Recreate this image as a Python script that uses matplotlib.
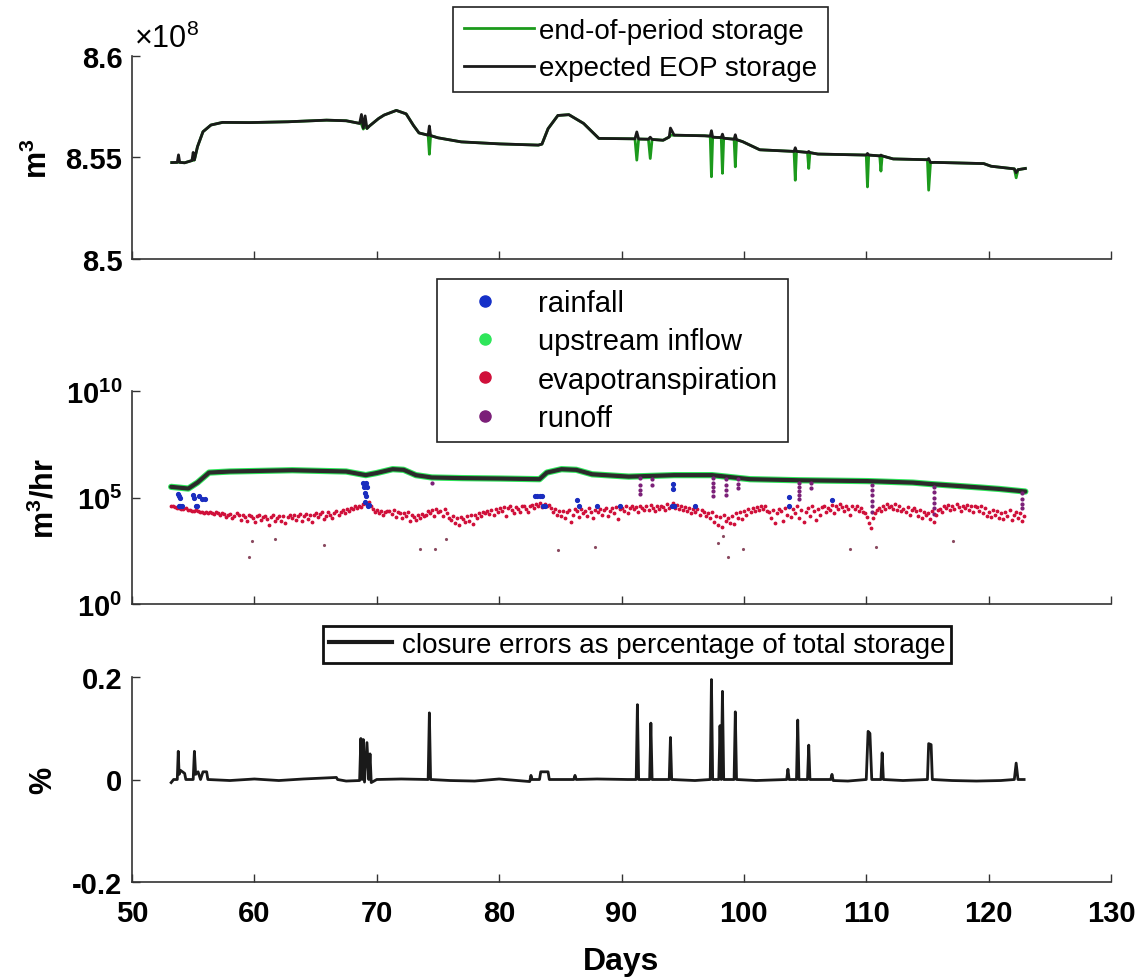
import numpy as np
import matplotlib
matplotlib.use("Agg")
import matplotlib.pyplot as plt
from matplotlib.lines import Line2D

# ---------------- data ----------------
# top panel: storage (units of 1e8 m^3)
storage_days = [53.25, 53.7, 53.8, 53.9, 54.3, 54.9, 55.0, 55.1, 55.35, 55.8, 56.45, 57.4,
                59.6, 62.75, 65.9, 67.5, 68.6, 68.75, 68.9, 69.05, 69.2, 69.4, 70.15, 70.6,
                71.6, 72.4, 73.0, 73.45, 74.2, 74.3, 74.4, 75.0, 76.9, 80.05, 83.2, 83.5,
                84.0, 84.8, 85.7, 86.9, 88.15, 91.1, 91.25, 91.4, 92.2, 92.35, 92.5, 93.4,
                93.9, 94.0, 94.3, 96.8, 97.25, 97.35, 97.45, 98.15, 98.25, 98.35, 99.2, 99.3,
                99.4, 99.9, 101.3, 104.1, 104.2, 104.3, 105.2, 105.3, 105.4, 106.05, 110.0,
                110.1, 110.2, 111.1, 111.2, 111.3, 112.2, 115.0, 115.1, 115.25, 115.6, 119.6,
                120.2, 122.1, 122.25, 122.4, 123.0]
eop_storage = [8.5475, 8.5476, 8.5478, 8.5476, 8.5474, 8.5485, 8.5486, 8.5488, 8.5553, 8.5627,
               8.5660, 8.5673, 8.5672, 8.5676, 8.5684, 8.5681, 8.5668, 8.5665, 8.5640, 8.5655,
               8.5643, 8.5655, 8.5692, 8.5709, 8.5732, 8.5715, 8.5658, 8.5621, 8.5610, 8.5516,
               8.5608, 8.5597, 8.5577, 8.5567, 8.5561, 8.5566, 8.5642, 8.5707, 8.5711, 8.5668,
               8.5594, 8.5592, 8.5487, 8.5591, 8.5590, 8.5495, 8.5589, 8.5585, 8.5601, 8.5610,
               8.5610, 8.5607, 8.5605, 8.5405, 8.5600, 8.5598, 8.5422, 8.5595, 8.5590, 8.5454,
               8.5588, 8.5578, 8.5538, 8.5530, 8.5388, 8.5530, 8.5525, 8.5446, 8.5524, 8.5517,
               8.5512, 8.5355, 8.5512, 8.5508, 8.5433, 8.5508, 8.5493, 8.5489, 8.5339, 8.5475,
               8.5476, 8.5470, 8.5457, 8.5444, 8.5400, 8.5440, 8.5446]
expected_storage = [8.5475, 8.5476, 8.5513, 8.5476, 8.5474, 8.5485, 8.5525, 8.5488, 8.5553, 8.5627,
                    8.5660, 8.5673, 8.5672, 8.5676, 8.5684, 8.5681, 8.5668, 8.5712, 8.5645, 8.5705,
                    8.5643, 8.5655, 8.5692, 8.5709, 8.5732, 8.5715, 8.5658, 8.5621, 8.5610, 8.5655,
                    8.5608, 8.5597, 8.5577, 8.5567, 8.5561, 8.5566, 8.5642, 8.5707, 8.5711, 8.5668,
                    8.5594, 8.5592, 8.5626, 8.5591, 8.5590, 8.5600, 8.5589, 8.5585, 8.5601, 8.5645,
                    8.5610, 8.5607, 8.5605, 8.5632, 8.5600, 8.5598, 8.5615, 8.5595, 8.5590, 8.5612,
                    8.5588, 8.5578, 8.5538, 8.5530, 8.5548, 8.5530, 8.5525, 8.5530, 8.5524, 8.5517,
                    8.5512, 8.5520, 8.5512, 8.5508, 8.5512, 8.5508, 8.5493, 8.5489, 8.5495, 8.5475,
                    8.5476, 8.5470, 8.5457, 8.5444, 8.5425, 8.5440, 8.5446]

# middle panel: fluxes, log10(m^3/hr)
upstream_days = [53.2, 54.6, 55.35, 56.3, 58.0, 63.1, 67.5, 69.1, 70.0, 71.3, 72.2, 73.2, 74.5,
                 77.0, 80.1, 83.3, 83.9, 85.1, 86.3, 87.6, 90.6, 94.3, 97.4, 100.5, 104.5,
                 110.1, 113.8, 115.3, 119.3, 120.9, 123.0]
upstream_log = [5.50, 5.42, 5.70, 6.17, 6.22, 6.28, 6.22, 6.05, 6.15, 6.33, 6.30, 6.05, 5.94,
                5.91, 5.89, 5.86, 6.17, 6.33, 6.30, 6.09, 5.98, 6.05, 6.05, 5.86, 5.81,
                5.77, 5.70, 5.63, 5.47, 5.40, 5.28]

rain_days = [53.75, 53.8, 53.85, 53.95, 54.1, 53.9, 55.0, 55.1, 55.2, 55.35, 55.5, 55.7, 56.0,
             68.9, 69.1, 68.95, 69.2, 69.0, 69.15, 69.05, 69.3, 69.4,
             82.9, 83.1, 83.3, 83.5, 83.6, 83.75, 86.4, 86.5, 88.0, 89.9,
             94.2, 94.2, 94.1, 94.25, 94.3, 96.0, 103.7, 103.7, 107.2]
rain_log = [5.15, 5.05, 4.62, 4.62, 4.62, 5.0, 5.12, 5.0, 4.62, 4.62, 5.05, 4.95, 4.95,
            5.66, 5.66, 5.47, 5.5, 5.2, 5.05, 4.8, 4.62, 4.65,
            5.05, 5.05, 5.05, 5.05, 4.62, 4.62, 4.89, 4.61, 4.61, 4.61,
            5.63, 5.42, 4.62, 4.62, 4.62, 4.61, 5.03, 4.61, 4.89]

# evapotranspiration sampled at these hours of each day
et_first_day = 53
et_hours = [1, 5, 9, 13, 17, 21]
et_log = [
    [np.nan, 4.62, 4.58, 4.55, 4.52, 4.50],
    [4.48, 4.46, 4.50, 4.42, 4.40, 4.38],
    [4.36, 4.40, 4.35, 4.30, 4.33, 4.28],
    [4.30, 4.25, 4.32, 4.28, 4.22, 4.30],
    [4.26, 4.20, 4.28, 4.24, 4.10, 4.18],
    [4.22, 4.05, 4.15, 4.25, 4.20, 3.95],
    [4.18, 4.10, 3.90, 4.20, 4.15, 4.02],
    [3.85, 4.12, 4.18, 3.95, 4.08, 4.15],
    [3.98, 3.70, 4.10, 4.16, 3.88, 4.05],
    [4.12, 3.92, 4.15, 3.80, 4.10, 4.20],
    [4.05, 4.18, 3.95, 4.12, 4.22, 3.90],
    [4.15, 4.24, 4.00, 4.18, 3.85, 4.20],
    [4.26, 4.10, 4.22, 4.30, 3.98, 4.15],
    [4.32, 4.20, 4.05, 4.28, 4.35, 4.18],
    [4.30, 4.40, 4.25, 4.45, 4.38, 4.50],
    [4.45, 4.58, 4.52, 4.62, 4.55, 4.68],
    [4.75, 4.65, 4.80, 4.60, 4.48, 4.30],
    [4.40, 4.25, 4.35, 4.18, 4.30, 4.38],
    [4.35, 4.22, 4.40, 4.10, 4.32, 4.28],
    [4.05, 4.25, 4.15, 4.30, 3.90, 4.20],
    [4.10, 3.95, 4.18, 4.05, 4.22, 4.12],
    [4.20, 4.35, 4.28, 4.40, 4.15, 4.45],
    [4.30, 4.38, 4.12, 4.48, 4.25, 4.05],
    [3.95, 4.15, 3.80, 4.05, 3.70, 4.10],
    [4.00, 3.85, 4.12, 3.92, 4.18, 3.75],
    [4.20, 4.05, 4.28, 4.12, 4.32, 4.25],
    [4.35, 4.22, 4.40, 4.18, 4.45, 4.30],
    [4.50, 4.38, 4.55, 4.15, 4.52, 4.60],
    [4.40, 4.25, 4.55, 4.48, 4.30, 4.58],
    [4.62, 4.45, 4.30, 4.58, 4.66, 4.50],
    [4.68, 4.60, 4.72, 4.55, 4.70, 4.62],
    [4.65, 4.50, 4.30, 4.45, 4.20, 4.35],
    [4.15, 4.38, 4.05, 4.30, 4.42, 3.85],
    [4.20, 4.45, 4.35, 4.10, 4.48, 4.25],
    [4.38, 4.15, 4.50, 4.30, 4.05, 4.42],
    [4.30, 4.48, 4.20, 4.40, 4.52, 4.15],
    [4.35, 4.50, 4.28, 4.55, 4.00, 4.45],
    [4.52, 4.38, 4.58, 4.25, 4.50, 4.60],
    [4.45, 4.55, 4.32, 4.62, 4.50, 4.40],
    [4.58, 4.42, 4.65, 4.50, 4.35, 4.60],
    [4.48, 4.62, 4.55, 4.40, 4.68, 4.52],
    [4.60, 4.72, 4.50, 4.65, 4.45, 4.58],
    [4.40, 4.55, 4.35, 4.50, 4.25, 4.45],
    [4.32, 4.48, 4.20, 4.40, 4.30, 4.15],
    [4.25, 4.05, 4.30, 3.85, 4.15, 3.70],
    [4.10, 3.60, 4.20, 3.90, 4.05, 3.80],
    [4.15, 3.75, 4.25, 4.05, 4.30, 4.00],
    [4.35, 4.20, 4.45, 4.30, 4.50, 4.38],
    [4.55, 4.40, 4.62, 4.48, 4.60, 4.35],
    [4.30, 4.05, 4.40, 3.80, 4.25, 4.45],
    [4.38, 3.90, 4.50, 4.20, 4.55, 4.10],
    [4.45, 4.25, 4.60, 4.05, 4.40, 3.85],
    [4.30, 4.50, 4.15, 4.58, 4.35, 3.95],
    [4.48, 4.20, 4.55, 4.62, 4.30, 4.50],
    [4.40, 4.65, 4.25, 4.58, 4.45, 4.70],
    [4.55, 4.35, 4.62, 4.48, 4.20, 4.58],
    [4.45, 4.60, 4.38, 4.52, 4.30, 4.25],
    [4.10, 3.80, 3.55, 4.05, 4.25, 4.40],
    [4.50, 4.38, 4.60, 4.45, 4.70, 4.55],
    [4.62, 4.48, 4.70, 4.40, 4.58, 4.35],
    [4.45, 4.30, 4.55, 4.20, 4.40, 4.50],
    [4.35, 4.15, 4.42, 4.05, 4.30, 4.20],
    [4.25, 4.00, 4.35, 3.85, 4.20, 4.40],
    [4.48, 4.30, 4.60, 4.50, 4.65, 4.40],
    [4.62, 4.45, 4.68, 4.55, 4.35, 4.60],
    [4.50, 4.65, 4.40, 4.58, 4.30, 4.62],
    [4.55, 4.38, 4.60, 4.25, 4.50, 4.15],
    [4.30, 4.10, 4.40, 4.20, 4.35, 4.05],
    [4.25, 4.00, 4.32, 4.15, 4.40, 3.95],
    [4.20, 4.30, 4.05, 4.25, 3.90, 4.15],
]
et_low_days = [59.6, 59.8, 61.65, 65.7, 73.5, 74.8, 75.65, 84.8, 87.8, 97.9, 98.3, 98.7,
               99.9, 108.7, 110.8, 117.1]
et_low_log = [2.22, 2.97, 3.05, 2.77, 2.60, 2.58, 3.05, 2.55, 2.66, 2.85, 3.20, 2.19,
              2.60, 2.60, 2.66, 2.97]

runoff_dip_days = [74.5, 91.5, 91.5, 91.5, 91.5, 92.5, 92.5, 97.5, 97.5, 97.5, 97.5, 97.5,
                   98.5, 98.5, 98.5, 98.5, 99.5, 99.5, 99.5, 104.5, 104.5, 104.5, 104.5, 104.5,
                   105.5, 105.5, 110.5, 110.5, 110.5, 110.5, 110.5, 110.5,
                   115.5, 115.5, 115.5, 115.5, 115.5, 115.5, 122.7, 122.7, 122.7, 122.7]
runoff_dip_log = [5.70, 5.90, 5.60, 5.35, 5.16, 5.85, 5.60, 5.90, 5.70, 5.50, 5.30, 5.08,
                  5.85, 5.60, 5.35, 5.10, 5.85, 5.65, 5.45, 5.70, 5.50, 5.30, 5.10, 4.92,
                  5.70, 5.45, 5.60, 5.35, 5.10, 4.85, 4.60, 4.30,
                  5.50, 5.25, 5.00, 4.75, 4.50, 4.22, 5.20, 4.95, 4.70, 4.53]

# bottom panel: closure error (%)
closure_days = [53.2, 53.4, 53.7, 53.78, 53.85, 53.95, 54.3, 54.4, 55.0, 55.1, 55.2, 55.4, 55.6,
                55.8, 56.1, 56.2, 58.0, 60.0, 62.0, 64.0, 66.7, 66.8, 67.5, 68.6, 68.7, 68.8,
                68.9, 69.0, 69.2, 69.35, 69.45, 69.55, 70.0, 72.0, 74.2, 74.3, 74.4, 76.0,
                78.0, 80.0, 82.5, 82.6, 82.7, 83.3, 83.4, 84.0, 84.1, 86.1, 86.2, 86.3, 88.0,
                90.5, 91.2, 91.3, 91.4, 92.3, 92.4, 92.5, 93.9, 94.0, 94.1, 96.0, 97.25, 97.35,
                97.45, 97.95, 98.05, 98.15, 98.25, 98.35, 99.2, 99.3, 99.4, 101.0, 103.5, 103.6,
                103.7, 104.3, 104.4, 104.5, 105.2, 105.3, 105.4, 107.1, 107.2, 107.3, 108.5,
                110.0, 110.15, 110.3, 110.45, 111.2, 111.3, 111.4, 113.0, 115.0, 115.1, 115.3,
                115.4, 117.0, 119.0, 121.0, 122.1, 122.25, 122.4, 122.9]
closure_pct = [-0.006, 0.0, 0.0, 0.055, 0.010, 0.018, 0.012, 0.0, 0.0, 0.055, 0.010, 0.015, 0.0,
               0.015, 0.015, 0.0, -0.002, 0.001, -0.002, 0.001, 0.004, 0.0, -0.003, -0.002, 0.080,
               0.0, 0.078, -0.005, 0.072, 0.0, 0.050, -0.006, 0.0, 0.001, 0.0, 0.130, 0.0, -0.002,
               -0.003, 0.001, -0.004, 0.008, 0.0, 0.0, 0.015, 0.015, 0.0, 0.0, 0.008, 0.0, 0.001,
               0.0, 0.0, 0.146, 0.0, 0.0, 0.110, 0.0, 0.0, 0.082, 0.0, -0.002, 0.0, 0.195,
               0.0, 0.0, 0.105, 0.0, 0.172, 0.0, 0.0, 0.132, 0.0, -0.002, 0.0, 0.020,
               0.0, 0.0, 0.116, 0.0, 0.0, 0.067, 0.0, 0.0, 0.010, -0.002, -0.003,
               0.0, 0.094, 0.090, 0.0, 0.0, 0.052, 0.0, -0.002, 0.0, 0.070, 0.068,
               0.0, -0.002, -0.003, -0.002, 0.0, 0.032, 0.0, 0.0]

# ---------------- styling ----------------
plt.rcParams["font.family"] = ["Liberation Sans", "DejaVu Sans"]
plt.rcParams["mathtext.fontset"] = "custom"
plt.rcParams["mathtext.rm"] = "Liberation Sans"
plt.rcParams["mathtext.bf"] = "Liberation Sans:bold"
plt.rcParams["mathtext.it"] = "Liberation Sans:italic"

W, H = 1137, 979


def px_rect(left, top, right, bottom):
    return [left / W, 1 - bottom / H, (right - left) / W, (bottom - top) / H]


def style(ax):
    ax.spines["top"].set_visible(False)
    ax.spines["right"].set_visible(False)
    for s in ("left", "bottom"):
        ax.spines[s].set_color("#333333")
        ax.spines[s].set_linewidth(1.2)
    ax.tick_params(direction="in", length=6, width=1.0, color="#333333",
                   labelsize=21, pad=7)
    ax.tick_params(which="minor", length=0)
    ax.set_xlim(50, 130)
    ax.set_xticks(range(50, 131, 10))
    for lab in ax.get_xticklabels() + ax.get_yticklabels():
        lab.set_fontweight("bold")


fig = plt.figure(figsize=(W / 100, H / 100), dpi=100)
ax1 = fig.add_axes(px_rect(132, 57, 1111, 260))
ax2 = fig.add_axes(px_rect(132, 392, 1111, 605))
ax3 = fig.add_axes(px_rect(132, 678, 1111, 883))

# ---- top panel
ax1.plot(storage_days, eop_storage, color="#1c9a1c", lw=2.0, label="end-of-period storage")
ax1.plot(storage_days, expected_storage, color="#1a1a1a", lw=2.0, label="expected EOP storage")
ax1.set_ylim(8.5, 8.6)
ax1.set_yticks([8.5, 8.55, 8.6])
ax1.set_yticklabels(["8.5", "8.55", "8.6"])
style(ax1)
ax1.set_xticklabels([])
ax1.set_ylabel("m$^\\mathbf{3}$", fontsize=22, fontweight="bold", labelpad=8)
fig.text(134 / W, 1 - 48 / H, r"$\times10^{8}$", fontsize=22, va="baseline", ha="left")
leg1 = ax1.legend(loc="upper left", bbox_to_anchor=(453 / W, 1 - 8 / H),
                  bbox_transform=fig.transFigure, fancybox=False, edgecolor="#222222",
                  framealpha=1, borderpad=0.4, borderaxespad=0, handlelength=2.5,
                  handletextpad=0.2, labelspacing=0.4, prop={"size": 20})
leg1.get_frame().set_linewidth(1.2)

# ---- middle panel
et_days = [et_first_day + i + h / 24 for i in range(len(et_log)) for h in et_hours]
et_vals = [10 ** v for row in et_log for v in row]
up_vals = [10 ** v for v in upstream_log]

ax2.plot(upstream_days, up_vals, color="#2ee65a", lw=4.5, solid_capstyle="round")
ax2.plot(upstream_days, up_vals, color="#2b2b2b", lw=3.0, solid_capstyle="round")
ax2.plot(runoff_dip_days, [10 ** v for v in runoff_dip_log], ".", color="#7b1f78", ms=4)
ax2.plot(et_days, et_vals, ".", color="#d0103a", ms=3.5)
ax2.plot(et_low_days, [10 ** v for v in et_low_log], ".", color="#8a4a60", ms=2.5)
ax2.plot(rain_days, [10 ** v for v in rain_log], ".", color="#1a2dbf", ms=5.5)
ax2.set_yscale("log")
ax2.set_ylim(1, 1e10)
ax2.set_yticks([1, 1e5, 1e10])
ax2.set_yticklabels([r"$\mathbf{10^{0}}$", r"$\mathbf{10^{5}}$", r"$\mathbf{10^{10}}$"])
style(ax2)
ax2.set_xticklabels([])
ax2.set_ylabel("m$^\\mathbf{3}$/hr", fontsize=22, fontweight="bold", labelpad=4)
handles = [Line2D([], [], ls="none", marker="o", ms=8, color=c)
           for c in ("#1530c8", "#2ee65a", "#d0103a", "#7b1f78")]
leg2 = ax2.legend(handles, ["rainfall", "upstream inflow", "evapotranspiration", "runoff"],
                  loc="upper left", bbox_to_anchor=(437 / W, 1 - 280 / H),
                  bbox_transform=fig.transFigure, fancybox=False, edgecolor="#222222",
                  framealpha=1, borderpad=0.35, borderaxespad=0, handlelength=2.6,
                  handletextpad=0.5, labelspacing=0.35, prop={"size": 21})
leg2.get_frame().set_linewidth(1.2)

# ---- bottom panel
ax3.plot(closure_days, closure_pct, color="#1a1a1a", lw=2.0,
         label="closure errors as percentage of total storage")
ax3.set_ylim(-0.2, 0.2)
ax3.set_yticks([-0.2, 0, 0.2])
ax3.set_yticklabels(["-0.2", "0", "0.2"])
style(ax3)
ax3.tick_params(axis="x", pad=12)
ax3.set_ylabel("%", fontsize=22, fontweight="bold", labelpad=10)
ax3.set_xlabel("Days", fontsize=23, fontweight="bold", labelpad=14)
leg3 = ax3.legend(loc="upper left", bbox_to_anchor=(323 / W, 1 - 627 / H),
                  bbox_transform=fig.transFigure, fancybox=False, edgecolor="#111111",
                  framealpha=1, borderpad=0.2, borderaxespad=0, handlelength=2.3,
                  handletextpad=0.35, prop={"size": 20})
leg3.get_frame().set_linewidth(2.0)
leg3.get_lines()[0].set_linewidth(3)

fig.savefig("out.png", dpi=100)
